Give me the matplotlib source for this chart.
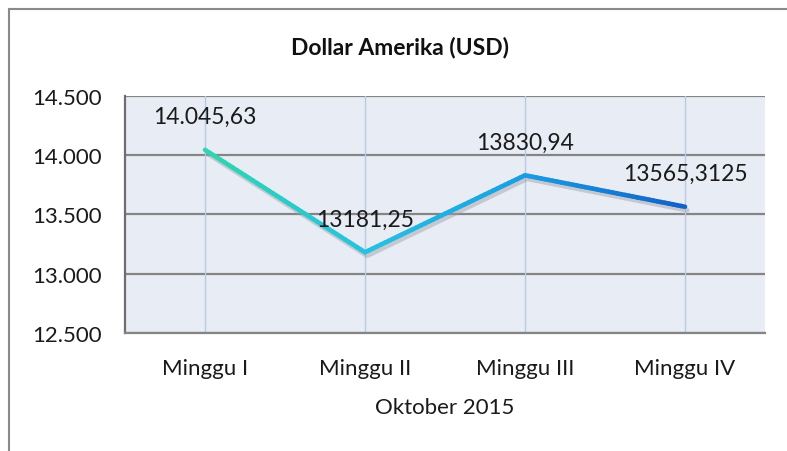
import numpy as np
import matplotlib
matplotlib.use("Agg")
import matplotlib.pyplot as plt
from matplotlib.collections import LineCollection
from matplotlib.colors import LinearSegmentedColormap
from matplotlib.ticker import FuncFormatter
import matplotlib.patheffects as pe
from matplotlib.lines import Line2D

categories = ["Minggu I", "Minggu II", "Minggu III", "Minggu IV"]
values = [14045.63, 13181.25, 13830.94, 13565.3125]
value_labels = ["14.045,63", "13181,25", "13830,94", "13565,3125"]
y_ticks = [12500, 13000, 13500, 14000, 14500]

plt.rcParams["font.family"] = ["Lato", "DejaVu Sans"]

fig = plt.figure(figsize=(7.87, 4.52), dpi=100)
ax = fig.add_axes([125 / 787, 1 - 334 / 452, 640 / 787, 237 / 452])
ax.set_facecolor("#e8ecf4")

x = np.arange(len(values))
ax.set_xlim(-0.5, len(values) - 0.5)
ax.set_ylim(12500, 14500)

# gridlines
for t in y_ticks:
    ax.axhline(t, color="#858585", lw=1.6, zorder=1)
for xi in x:
    ax.axvline(xi, color="#b5cbe8", lw=1.0, zorder=1)

# gradient line built from the polyline segments
cmap = LinearSegmentedColormap.from_list("g", ["#2fd6b0", "#27c2e0", "#1a9ee3", "#1262c8"])
pts = []
for i in range(len(values) - 1):
    for s in np.linspace(0, 1, 40, endpoint=False):
        pts.append((x[i] + s, values[i] + s * (values[i + 1] - values[i])))
pts.append((x[-1], values[-1]))
pts = np.array(pts)
segs = np.stack([pts[:-1], pts[1:]], axis=1)
# shadow
ax.plot(x, values, color="#9aa0a8", lw=3.5, alpha=0.45, zorder=2,
        solid_capstyle="round",
        path_effects=[pe.Stroke(offset=(1.5, -2.5))])
lc = LineCollection(segs, cmap=cmap, linewidths=3.3, zorder=3, capstyle="round")
lc.set_array(pts[:-1, 0] / pts[-1, 0])
ax.add_collection(lc)

for xi, v, lab in zip(x, values, value_labels):
    ax.annotate(lab, (xi, v), xytext=(0, 24), textcoords="offset points",
                ha="center", va="center", fontsize=16.5, color="#1a1a1a", zorder=4)

ax.set_yticks(y_ticks)
ax.yaxis.set_major_formatter(FuncFormatter(lambda v, p: f"{int(v):,}".replace(",", ".")))
ax.set_xticks(x)
ax.set_xticklabels(categories)
ax.tick_params(axis="both", length=0, labelsize=16, colors="#1a1a1a")
ax.tick_params(axis="y", pad=17)
ax.tick_params(axis="x", pad=18)
ax.set_xlabel("Oktober 2015", fontsize=16, color="#1a1a1a", labelpad=14)

for side in ["top", "right"]:
    ax.spines[side].set_visible(False)
ax.spines["left"].set_color("#6e6e6e")
ax.spines["left"].set_linewidth(1.6)
ax.spines["bottom"].set_color("#858585")
ax.spines["bottom"].set_linewidth(1.6)

fig.text(400 / 787, 1 - 47 / 452, "Dollar Amerika (USD)", ha="center", va="center",
         fontsize=16.5, fontweight="bold", color="#111111")

# outer chart border (cropped on right and bottom)
fig.add_artist(Line2D([9 / 787, 9 / 787], [0, 1 - 10 / 452], color="#8a8a8a", lw=1.5))
fig.add_artist(Line2D([9 / 787, 1], [1 - 10 / 452, 1 - 10 / 452], color="#8a8a8a", lw=1.5))

fig.savefig("out.png", dpi=100)
